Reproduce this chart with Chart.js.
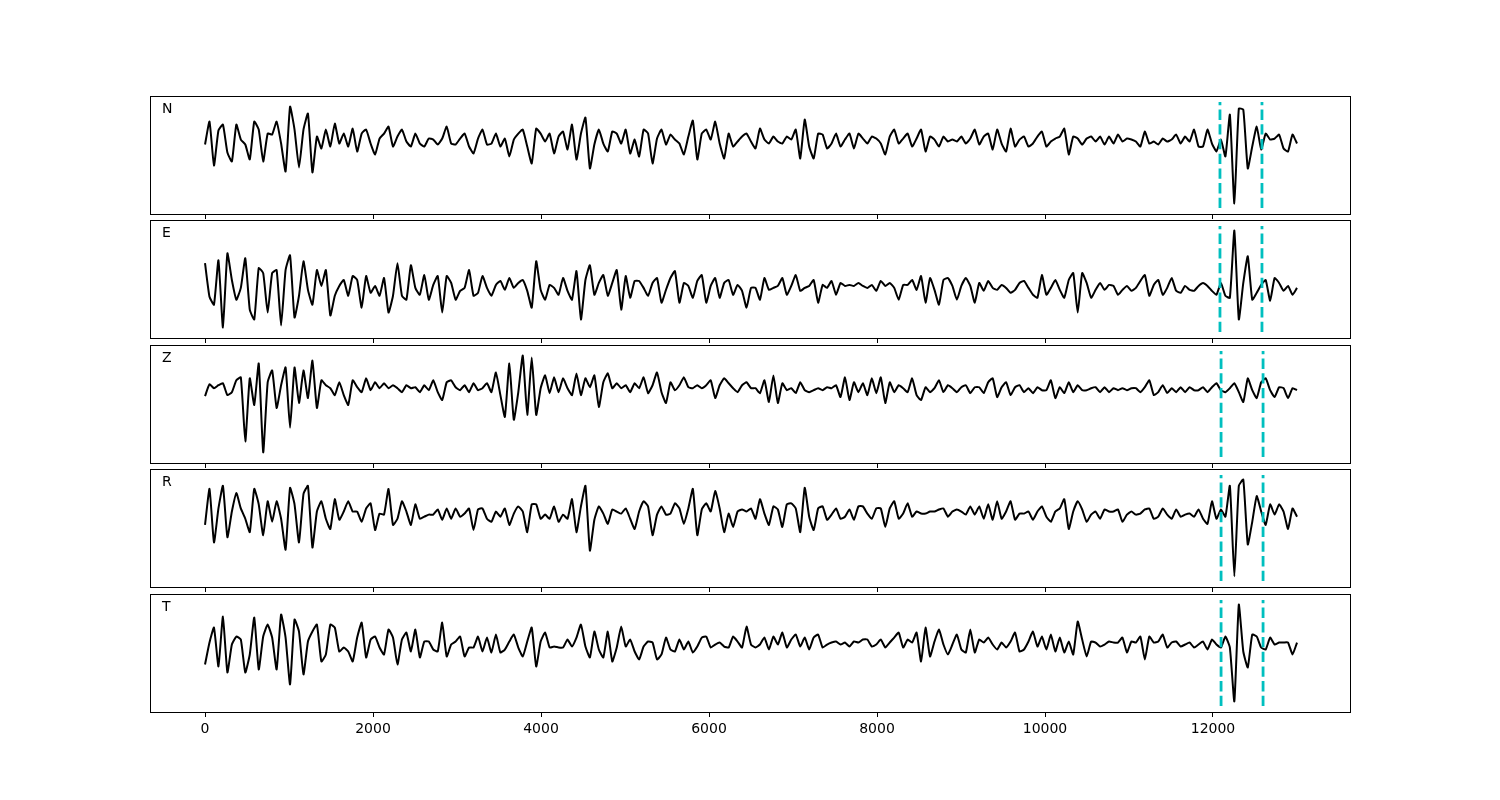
<!DOCTYPE html>
<html lang="en">
<head>
<meta charset="UTF-8" />
<title>Three-component traces with picks</title>
<script src="https://cdn.jsdelivr.net/npm/chart.js"></script>
<style>
  body { margin: 0; background: #fff; }
  #wrap { position: relative; width: 1500px; height: 800px; background: #fff; }
  #wrap canvas { position: absolute; left: 0; }
</style>
</head>
<body>
<div id="wrap"></div>
<script>
// channel names, one panel each
const channels = ['N', 'E', 'Z', 'R', 'T'];

const tEnd = 13000;

const traceN = [
  -2, 21, -23, 12, 18, -10, -19, 18, 3, -2,
  -17, 21, 13, -19, 9, 8, 21, -1, -29, 36,
  13, -25, 13, 29, -30, 6, -6, 13, -4, 19,
  -1, 9, -4, 14, -9, 9, 13, -1, -12, 4,
  9, 16, -4, 6, 13, 1, -4, 9, -1, -4,
  4, 3, -2, 4, 16, -1, -2, 4, 9, -4,
  -11, 4, 13, -2, -1, 9, -4, 4, -14, 3,
  9, 13, -4, -21, 14, 9, 1, 9, -11, 6,
  11, -7, 18, -17, 9, 25, -26, -2, 13, -1,
  -9, 11, 9, -1, 13, -11, 3, -14, 13, 9,
  -21, 4, 13, -2, 8, 3, -1, -12, 6, 22,
  -17, 9, 13, 3, 21, -1, -16, 9, -4, 1,
  6, 9, 1,
  -6, 14, 3, -1, 6, 1, -1, 6, 3, 13,
  -16, 23, -4, -16, 9, 8, -6, -1, 9, -4,
  3, 9, -6, 9, 4, -1, 6, 4, -1, -12,
  6, 13, -1, 4, 9, -4, 4, 13, -9, 6,
  3, -4, 6, 1, 3, 1, 6, -1, 4, 13,
  -2, 6, 9, -7, 13, -1, -9, 14, -4, 3,
  6, -4, -1, 6, 11, -4, 1, 4, 6, 14,
  -12, 6, 4, -2, 4, 6, 1, 6, -2, 6,
  -1, 8, 1, 4, 3, 1, -4, 11, -1, 1,
  -2, 4, 1, 3, 8, -1, 6, 1, 13, -4,
  -4, 13, -1, -9, 3, -14, 28, -61, 34, 33,
  -26, -4, 16, -7, 9, 3, 4, 8, -6, -9,
  8, -1
];

const traceE = [
  25, -9, -17, 28, -40, 35, 8, -12, 0, 30,
  -22, -32, 20, 15, -25, 15, 18, -38, 18, 33,
  -30, -8, 27, -2, -17, 18, 2, 18, -28, -8,
  2, 8, -8, 12, 8, -20, 12, -5, 2, -8,
  10, -25, -8, 25, -8, -12, 23, 0, -7, 13,
  -12, 3, 12, -25, 12, 5, -12, -3, 0, 18,
  -8, -5, 12, 0, -8, 3, 7, -2, 10, 0,
  5, 8, -3, -20, 27, -2, -12, 3, 0, -7,
  10, -3, -12, 17, -32, 8, 23, -7, 5, 13,
  -8, 5, 18, -22, 12, -10, 7, 7, 0, -8,
  5, 10, -15, -2, 10, 17, -15, 5, 2, -10,
  7, 13, -15, 2, 10, -10, 5, 8, -7, 3,
  -3, -20, 0,
  0, -12, 10, -2, 0, 2, 10, -7, 2, 13,
  -3, 0, 2, 8, -15, 3, 0, 7, -7, 5,
  2, 3, 2, 5, 2, 0, 3, -3, 7, 2,
  5, 0, -12, 3, 3, 8, -2, 12, -15, 10,
  -2, -17, 8, 10, 2, -12, 2, 10, 2, -15,
  5, -3, 7, 0, -2, 3, 0, -5, -2, 5,
  7, 0, -7, -10, 13, -7, 0, 8, -2, -10,
  8, 15, -25, 15, 5, -10, -2, 5, -2, 3,
  2, -7, -2, 2, -3, 0, 7, 13, -8, 3,
  8, -7, 0, 10, -3, -5, 2, -2, -3, 2,
  5, 2, -3, -7, 5, -8, -10, 58, -32, 5,
  32, -12, -5, 3, 8, -13, 10, 5, -3, 2,
  -7, 0
];

const traceZ = [
  -6, 6, 2, 5, 7, -5, -2, 10, 13, -52,
  12, -15, 27, -63, 8, 20, -18, 5, 23, -38,
  23, -13, 20, -8, 30, -18, 10, 5, 2, -5,
  8, -5, -15, 10, 3, -2, 12, 0, 8, 2,
  7, 2, 5, 2, -2, 5, 2, 3, -2, 5,
  0, 10, -2, -10, 8, 10, 3, 0, 5, -2,
  7, 0, 2, 7, -2, 18, -5, -27, 27, -30,
  -2, 35, -25, 33, -25, 2, 15, -3, 13, -2,
  12, 2, -5, 17, -5, 12, 3, 15, -17, 8,
  17, 2, 7, 2, 5, -2, 7, 2, 13, -3,
  5, 18, -2, -13, 8, 0, 5, 13, 3, 2,
  5, 2, 5, 10, -8, 5, 12, 7, 2, -2,
  5, 8, 2,
  2, -3, 10, -12, 15, -13, 7, 0, 2, -3,
  8, 0, -2, 0, 2, 0, 3, 2, 5, -7,
  13, -10, 8, -2, 7, -5, 12, -3, 13, -13,
  8, -2, 5, 2, -2, 12, -5, -10, 3, -2,
  2, 10, -2, 5, 2, -2, 3, 5, -3, 3,
  3, -3, 8, 12, -7, 3, 8, -5, 3, 5,
  -2, 2, -3, 3, 0, 0, 10, -8, 3, -3,
  8, -2, 5, 0, 0, 2, 3, -2, 3, -2,
  2, 0, 2, 0, 2, 2, -2, 3, 10, -5,
  -2, 5, -3, 2, -2, 3, -2, 3, 0, 0,
  3, -2, 3, 7, 0, -2, 2, 7, -2, -12,
  12, 0, -8, 8, 12, 0, -7, 3, 2, -8,
  2, 0
];

const traceR = [
  -8, 27, -25, 8, 30, -20, 5, 23, 8, -2,
  -15, 27, 12, -18, 15, -5, 15, -2, -32, 28,
  12, -25, 22, 30, -30, 5, 15, -2, -12, 17,
  -3, 5, 15, 5, 5, -5, 8, 13, -13, 3,
  2, 27, -8, -2, 15, 5, -8, 12, -2, 0,
  2, 2, 7, -3, 8, -2, 8, 0, 3, 8,
  -13, 7, 8, -2, -5, 5, 0, 8, -8, 3,
  10, 5, -15, 12, 12, -2, 2, -2, 10, -5,
  2, -2, 17, -15, 10, 30, -33, -3, 10, 3,
  -7, 7, 5, 3, 8, -2, -12, 5, 15, 10,
  -18, 2, 10, 2, 3, 13, 8, -7, 8, 27,
  -18, 7, 13, 5, 25, 8, -15, 3, -10, 5,
  7, 5, 8,
  -2, 17, 3, -8, 10, 7, -10, 12, 13, 8,
  -15, 28, 0, -13, 8, 10, -3, 2, 8, -2,
  0, 7, -3, 10, 10, 3, -2, 8, 8, -10,
  8, 15, -2, 3, 13, 0, 5, 3, 3, 5,
  5, 7, 8, 0, 5, 7, 5, 2, 10, 2,
  10, -2, 12, -3, 15, -2, 5, 15, -3, 3,
  3, 5, -3, 5, 10, 0, -5, 5, 8, 17,
  -12, 5, 15, 7, -5, 2, 5, -2, 7, 5,
  5, 7, -5, 2, 5, 2, 3, 7, 8, -2,
  0, 8, 2, -2, 7, 0, 2, 3, 0, 7,
  -2, -7, 15, -2, 7, 0, 30, -58, 30, 36,
  -27, -5, 20, 5, -8, 12, 2, 12, 5, -12,
  8, 0
];

const traceT = [
  -20, 2, 17, -22, 28, -28, 0, 8, 5, -28,
  -10, 27, -25, 8, 20, 7, -25, 30, 7, -40,
  25, 13, -30, 3, 13, 20, -17, -10, 20, 17,
  -7, -3, -7, -17, 7, 22, -13, 5, 8, -3,
  -10, 15, 7, -20, 5, 12, -7, 15, -13, 3,
  3, -5, -7, 22, -12, 0, 3, 8, -12, -3,
  -3, 8, -7, 7, -8, 10, -8, -5, 3, 10,
  -3, -12, 3, 17, -22, 3, 12, -3, -2, -3,
  -3, 5, -2, 7, 20, -2, -13, 13, -5, -13,
  13, -17, -3, 18, -2, 5, -7, -15, -2, 3,
  2, -15, -10, 7, -5, -7, 5, -5, 3, -8,
  -2, 7, 8, -3, 0, 2, -2, -3, 8, 3,
  -3, 18, 0,
  -3, 0, 7, -5, 8, 0, 12, -3, 5, 10,
  -2, 7, -5, 7, 10, -3, 0, 2, 3, 0,
  2, -2, 3, 2, 5, 5, -2, 0, 5, -3,
  2, 7, 12, -3, 5, 2, 12, -17, 17, -12,
  3, 15, 0, -10, 0, 10, -5, -8, 15, -8,
  5, 2, 7, 0, -5, 2, -3, 3, 12, -7,
  -5, 3, 13, -2, 8, -5, 10, -7, 7, -8,
  3, -10, 23, 5, -12, 3, 2, -2, 0, 3,
  2, 2, 7, -8, 3, 2, 8, -15, 8, 2,
  3, 10, -3, 2, 3, -2, 0, 2, -3, 0,
  3, -5, 5, 0, -3, 8, -3, -57, 40, -7,
  -23, 10, 8, -3, -5, 7, 0, 2, 2, 2,
  -10, 2
];

// phase window markers (same time units as the x axis)
const pickStart = [12083, 12083, 12096, 12096, 12096];
const pickEnd   = [12583, 12583, 12596, 12596, 12596];

// x tick labels
const tickValues = [0, 2000, 4000, 6000, 8000, 10000, 12000];

const traces = [traceN, traceE, traceZ, traceR, traceT];
const panelTops = [94, 218, 343, 467, 592];

const deco = {
  id: 'deco',
  afterDatasetsDraw(chart, args, opts) {
    const { ctx, chartArea: a, scales } = chart;
    const h = a.bottom - a.top;
    ctx.save();
    ctx.strokeStyle = '#00bfbf';
    ctx.lineWidth = 2.8;
    ctx.setLineDash([10.3, 4.4]);
    opts.picks.forEach(t => {
      const x = scales.x.getPixelForValue(t);
      ctx.beginPath();
      ctx.moveTo(x, a.bottom - 0.05 * h);
      ctx.lineTo(x, a.top + 0.05 * h);
      ctx.stroke();
    });
    ctx.restore();
  },
  afterDraw(chart, args, opts) {
    const { ctx, chartArea: a } = chart;
    ctx.save();
    ctx.strokeStyle = '#000';
    ctx.lineWidth = 1;
    ctx.strokeRect(a.left + 0.5, a.top + 0.5, a.right - a.left, a.bottom - a.top);
    ctx.fillStyle = '#000';
    ctx.font = '14px "DejaVu Sans"';
    ctx.textBaseline = 'alphabetic';
    ctx.fillText(opts.label, a.left + 12, a.top + 17);
    ctx.restore();
  }
};

const wrap = document.getElementById('wrap');

traces.forEach((vals, p) => {
  const cv = document.createElement('canvas');
  cv.width = 1500;
  cv.height = 152;
  cv.style.top = panelTops[p] + 'px';
  wrap.appendChild(cv);

  const dt = tEnd / (vals.length - 1);
  const pts = vals.map((v, i) => ({ x: i * dt, y: v }));
  const lo = Math.min(...vals), hi = Math.max(...vals);
  const pad = (hi - lo) * 0.11;
  const last = p === traces.length - 1;

  new Chart(cv, {
    type: 'line',
    data: {
      datasets: [{
        data: pts,
        borderColor: '#000',
        borderWidth: 2,
        borderJoinStyle: 'round',
        pointRadius: 0,
        tension: 0.15,
        fill: false
      }]
    },
    options: {
      responsive: false,
      animation: false,
      layout: { padding: { left: 150, right: 150, top: 2, bottom: 2 } },
      plugins: {
        legend: { display: false },
        tooltip: { enabled: false },
        deco: { label: channels[p], picks: [pickStart[p], pickEnd[p]] }
      },
      scales: {
        x: {
          type: 'linear',
          min: -655,
          max: 13631,
          afterBuildTicks: s => { s.ticks = tickValues.map(v => ({ value: v })); },
          afterFit: s => { s.height = 30; },
          grid: { drawOnChartArea: false, drawTicks: true, tickLength: 5, color: '#000', lineWidth: 1 },
          border: { display: false },
          ticks: {
            display: last,
            padding: 4,
            color: '#000',
            maxRotation: 0,
            font: { family: 'DejaVu Sans', size: 14 },
            callback: v => String(v)
          }
        },
        y: { display: false, min: lo - pad, max: hi + pad }
      }
    },
    plugins: [deco]
  });
});
</script>
</body>
</html>
